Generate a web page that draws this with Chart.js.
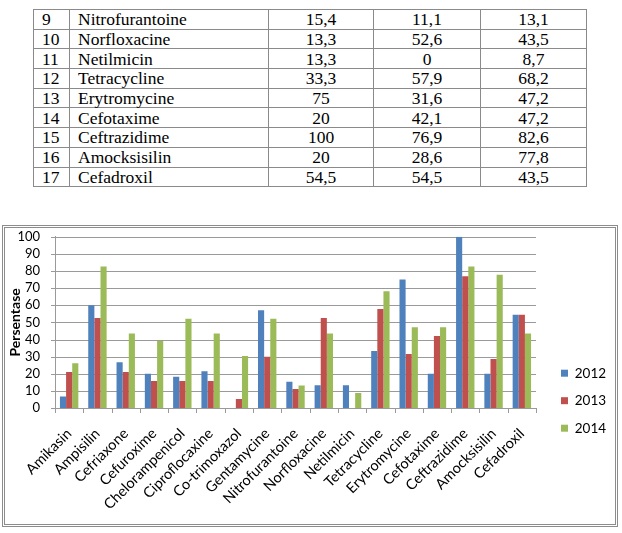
<!DOCTYPE html>
<html>
<head>
<meta charset="utf-8">
<script src="https://cdn.jsdelivr.net/npm/chart.js@4.4.0/dist/chart.umd.min.js"></script>
<style>
  html, body { margin: 0; padding: 0; background: #fff; }
  body { width: 622px; height: 533px; position: relative; overflow: hidden; }
  #tbl {
    position: absolute; left: 33px; top: 9px;
    border-collapse: collapse; table-layout: fixed;
  }
  #tbl td {
    font-family: "Liberation Serif", Tinos, "Noto Serif", "DejaVu Serif", serif;
    font-size: 17.5px; color: #000;
    border: 1px solid #8a8a8a; height: 18.7px; padding: 0; line-height: 18px; white-space: nowrap;
  }
  #tbl td.no, #tbl td.nm { padding-left: 8px; }
  #tbl td.v { text-align: center; }
  #box {
    position: absolute; left: 2px; top: 225px; width: 616px; height: 302px;
    box-sizing: border-box; border: 3px double #8c8c8c;
  }
</style>
</head>
<body>
<table id="tbl">
  <colgroup><col style="width:36px"><col style="width:199px"><col style="width:105px"><col style="width:107px"><col style="width:106px"></colgroup>
  <tbody id="tbody"></tbody>
</table>
<div id="box"></div>
<canvas id="chart" width="610" height="306" style="position:absolute;left:5px;top:218px"></canvas>

<script>
// antibiotic names (chart order)
const drugs = ["Amikasin", "Ampisilin", "Cefriaxone", "Cefuroxime", "Chelorampenicol",
  "Ciproflocaxine", "Co-trimoxazol", "Gentamycine", "Nitrofurantoine", "Norfloxacine",
  "Netilmicin", "Tetracycline", "Erytromycine", "Cefotaxime", "Ceftrazidime",
  "Amocksisilin", "Cefadroxil"];

const y2012 = [6.7, 60, 26.7, 20, 18.2, 21.4, 0, 57.1, 15.4, 13.3, 13.3, 33.3, 75, 20, 100, 20, 54.5];
const y2013 = [21.1, 52.6, 21.1, 15.8, 15.8, 15.8, 5.3, 30, 11.1, 52.6, 0, 57.9, 31.6, 42.1, 76.9, 28.6, 54.5];
const y2014 = [26.1, 82.6, 43.5, 39.1, 52.2, 43.5, 30.4, 52.2, 13.1, 43.5, 8.7, 68.2, 47.2, 47.2, 82.6, 77.8, 43.5];

const years = ["2012", "2013", "2014"];
const yMin = 0, yMax = 100, yStep = 10;

// table above the chart shows rows 9..17
const fmt = v => String(v).replace(".", ",");
const tbody = document.getElementById("tbody");
for (let i = 8; i < drugs.length; i++) {
  const tr = document.createElement("tr");
  tr.innerHTML =
    '<td class="no">' + (i + 1) + '</td>' +
    '<td class="nm">' + drugs[i] + '</td>' +
    '<td class="v">' + fmt(y2012[i]) + '</td>' +
    '<td class="v">' + fmt(y2013[i]) + '</td>' +
    '<td class="v">' + fmt(y2014[i]) + '</td>';
  tbody.appendChild(tr);
}

/* ===============================
   CHART
=============================== */
const gridColor = "#9a9a9a";
const font = "Lato, 'Open Sans', sans-serif";

// gridlines + tick marks, drawn from the scales' own tick pixels
const axisLines = {
  id: "axisLines",
  beforeDatasetsDraw(chart) {
    const { ctx, chartArea: a, scales: { x, y } } = chart;
    ctx.save();
    ctx.strokeStyle = gridColor;
    ctx.lineWidth = 1;
    ctx.beginPath();
    y.ticks.forEach((t, i) => {
      const py = Math.round(y.getPixelForTick(i)) + 0.5;
      ctx.moveTo(a.left - 4, py);
      ctx.lineTo(a.right, py);
    });
    for (let i = 0; i <= x.ticks.length; i++) {
      const px = Math.round(x.getPixelForValue(i - 0.5)) + 0.5;
      ctx.moveTo(px, a.bottom);
      ctx.lineTo(px, a.bottom + 5);
    }
    ctx.stroke();
    ctx.restore();
  }
};

new Chart(document.getElementById("chart").getContext("2d"), {
  type: "bar",
  data: {
    labels: drugs,
    datasets: [
      { label: years[0], data: y2012, backgroundColor: "#4F81BD" },
      { label: years[1], data: y2013, backgroundColor: "#C0504D" },
      { label: years[2], data: y2014, backgroundColor: "#9BBB59" }
    ]
  },
  plugins: [axisLines],
  options: {
    responsive: false,
    animation: false,
    categoryPercentage: 0.65,
    barPercentage: 1,
    layout: { padding: { top: 0, right: 0, bottom: 0, left: 0 } },
    plugins: {
      tooltip: { enabled: false },
      legend: {
        position: "right",
        maxWidth: 68,
        title: { display: true, text: "", padding: { top: 57, bottom: 0 }, font: { size: 2 } },
        labels: {
          boxWidth: 7, boxHeight: 7, padding: 14,
          color: "#000", font: { family: font, size: 13.5 }
        }
      }
    },
    scales: {
      x: {
        grid: { display: false, tickLength: 5 },
        border: { display: true, color: gridColor },
        ticks: {
          autoSkip: false, maxRotation: 45, minRotation: 45, padding: 12,
          color: "#000", font: { family: font, size: 14.5 }
        },
        afterFit: s => { s.height = 116; }
      },
      y: {
        min: yMin, max: yMax,
        grid: { display: false, tickLength: 4 },
        border: { display: true, color: gridColor },
        ticks: { stepSize: yStep, autoSkip: false, padding: 11, color: "#000", font: { family: font, size: 13 } },
        title: {
          display: true, text: "Persentase", color: "#000", padding: { top: 2, bottom: 0 },
          font: { family: font, size: 14, weight: "bold" }
        },
        afterFit: s => { s.width = 50; }
      },
      // spacer between plot and legend
      gap: {
        position: "right", display: true,
        grid: { display: false }, border: { display: false }, ticks: { display: false },
        afterFit: s => { s.width = 11; }
      }
    }
  }
});
</script>
</body>
</html>
